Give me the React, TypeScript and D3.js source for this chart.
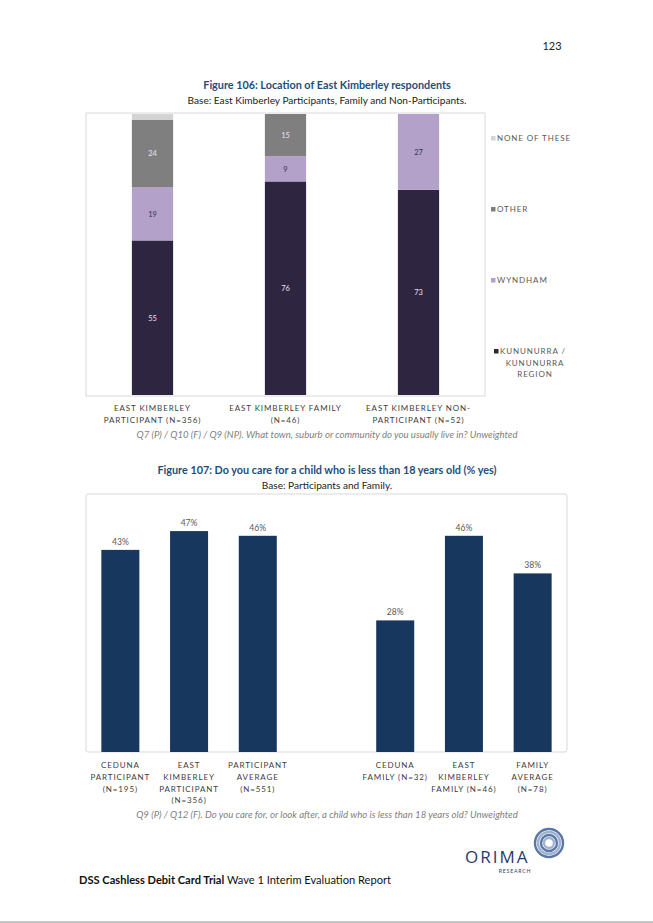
import { useEffect, useRef } from 'react';
import * as d3 from 'd3';

// Figure 106 – location of East Kimberley respondents (stacked %)
const locationGroups = ['EK_P', 'EK_F', 'EK_NP'];
const locationLabels = [
  ['EAST KIMBERLEY', 'PARTICIPANT (N=356)'],
  ['EAST KIMBERLEY FAMILY', '(N=46)'],
  ['EAST KIMBERLEY NON-', 'PARTICIPANT (N=52)'],
];
const locationKeys = ['kununurra', 'wyndham', 'other', 'none'];
const locationLegend = [['KUNUNURRA /', 'KUNUNURRA', 'REGION'], ['WYNDHAM'], ['OTHER'], ['NONE OF THESE']];
const kununurra = [55, 76, 73];
const wyndham = [19, 9, 27];
const other = [24, 15, 0];
const noneOfThese = [2, 0, 0];

// Figure 107 – care for a child under 18 (% yes); '' is the gap slot
const careGroups = ['CP', 'EKP', 'PA', '', 'CF', 'EKF', 'FA'];
const careLabels = [
  ['CEDUNA', 'PARTICIPANT', '(N=195)'],
  ['EAST', 'KIMBERLEY', 'PARTICIPANT', '(N=356)'],
  ['PARTICIPANT', 'AVERAGE', '(N=551)'],
  [],
  ['CEDUNA', 'FAMILY (N=32)'],
  ['EAST', 'KIMBERLEY', 'FAMILY (N=46)'],
  ['FAMILY', 'AVERAGE', '(N=78)'],
];
const careValues = [43, 47, 46, null, 28, 46, 38];

const W = 653;
const H = 923;
const FONT = "Lato, 'Open Sans', sans-serif";
const TITLE_BLUE = '#1f4e79';
const colors: Record<string, string> = {
  kununurra: '#2e2541',
  wyndham: '#b3a1c9',
  other: '#7f7f7f',
  none: '#d4d4d4',
};

export default function App() {
  const svgRef = useRef<SVGSVGElement>(null);

  useEffect(() => {
    if (!svgRef.current) return;
    const svg = d3.select(svgRef.current);
    svg.selectAll('*').remove();

    svg.append('rect').attr('width', W).attr('height', H).attr('fill', '#fff');

    // page number
    svg.append('text').attr('x', 552).attr('y', 50).attr('text-anchor', 'middle')
      .attr('font-family', FONT).attr('font-size', 11).attr('fill', '#222').text('123');

    const title = (y: number, t: string, sub: string) => {
      svg.append('text').attr('x', 327).attr('y', y).attr('text-anchor', 'middle')
        .attr('font-family', FONT).attr('font-weight', 'bold').attr('font-size', 10.8)
        .attr('fill', TITLE_BLUE).text(t);
      svg.append('text').attr('x', 327).attr('y', y + 15).attr('text-anchor', 'middle')
        .attr('font-family', FONT).attr('font-size', 10.1).attr('fill', '#222').text(sub);
    };
    const note = (y: number, t: string) => {
      svg.append('text').attr('x', 327).attr('y', y).attr('text-anchor', 'middle')
        .attr('font-family', FONT).attr('font-style', 'italic').attr('font-size', 9.6)
        .attr('fill', '#808080').text(t);
    };
    const multiLine = (g: d3.Selection<SVGGElement, unknown, null, undefined>, x: number, y: number, lines: string[], dy: number) => {
      const t = g.append('text').attr('x', x).attr('y', y).attr('text-anchor', 'middle')
        .attr('font-family', FONT).attr('font-size', 8).attr('letter-spacing', 0.9)
        .attr('fill', '#404040');
      lines.forEach((l, i) => t.append('tspan').attr('x', x).attr('y', y + i * dy).text(l));
    };

    // ---------- Figure 106 ----------
    title(89, 'Figure 106: Location of East Kimberley respondents',
      'Base: East Kimberley Participants, Family and Non-Participants.');

    const g1 = svg.append('g');
    const x1 = d3.scaleBand<string>().domain(locationGroups).range([86, 485])
      .paddingInner(0.69).paddingOuter(0.345);
    const y1 = d3.scaleLinear().domain([0, 100]).range([395, 114]);

    g1.append('rect').attr('x', 86).attr('y', 113).attr('width', 399).attr('height', 283)
      .attr('fill', 'none').attr('stroke', '#d9d9d9').attr('stroke-width', 1);

    const rows = locationGroups.map((grp, i) => ({
      grp,
      kununurra: kununurra[i],
      wyndham: wyndham[i],
      other: other[i],
      none: noneOfThese[i],
    }));
    const stacked = d3.stack<any>().keys(locationKeys)(rows);

    stacked.forEach(layer => {
      const lg = g1.append('g');
      layer.forEach(d => {
        const v = d[1] - d[0];
        if (v <= 0) return;
        lg.append('rect').attr('x', x1(d.data.grp)!).attr('width', x1.bandwidth())
          .attr('y', y1(d[1])).attr('height', y1(d[0]) - y1(d[1]))
          .attr('fill', colors[layer.key]);
        if (layer.key !== 'none') {
          lg.append('text').attr('x', x1(d.data.grp)! + x1.bandwidth() / 2)
            .attr('y', (y1(d[0]) + y1(d[1])) / 2 + 3).attr('text-anchor', 'middle')
            .attr('font-family', FONT).attr('font-size', 7.5)
            .attr('fill', layer.key === 'wyndham' ? '#3a3050' : '#e8e4ee').text(v);
        }
      });
    });

    locationGroups.forEach((grp, i) => {
      multiLine(g1, x1(grp)! + x1.bandwidth() / 2, 411, locationLabels[i], 12);
    });

    // legend
    const legendY = [354, 283, 212, 141];
    locationKeys.forEach((k, i) => {
      const lines = locationLegend[i];
      const y = legendY[i];
      if (lines.length === 1) {
        g1.append('rect').attr('x', 491).attr('y', y - 5).attr('width', 4.5).attr('height', 4.5)
          .attr('fill', colors[k]);
        g1.append('text').attr('x', 497).attr('y', y).attr('font-family', FONT)
          .attr('font-size', 8).attr('letter-spacing', 0.9).attr('fill', '#595959').text(lines[0]);
      } else {
        g1.append('rect').attr('x', 494).attr('y', y - 5).attr('width', 4.5).attr('height', 4.5)
          .attr('fill', colors[k]);
        const t = g1.append('text').attr('font-family', FONT)
          .attr('font-size', 8).attr('letter-spacing', 0.9).attr('fill', '#595959');
        lines.forEach((l, j) => t.append('tspan')
          .attr('x', j === 0 ? 500 : 535).attr('text-anchor', j === 0 ? 'start' : 'middle')
          .attr('y', y + j * 11.5).text(l));
      }
    });

    note(438, 'Q7 (P) / Q10 (F) / Q9 (NP). What town, suburb or community do you usually live in? Unweighted');

    // ---------- Figure 107 ----------
    title(474, 'Figure 107: Do you care for a child who is less than 18 years old (% yes)',
      'Base: Participants and Family.');

    const g2 = svg.append('g');
    g2.append('rect').attr('x', 86).attr('y', 494).attr('width', 481).attr('height', 258)
      .attr('fill', 'none').attr('stroke', '#d9d9d9').attr('stroke-width', 1).attr('rx', 2);

    const x2 = d3.scaleBand<number>().domain(d3.range(careGroups.length)).range([86, 567])
      .paddingInner(0.447).paddingOuter(0.2235);
    const y2 = d3.scaleLinear().domain([0, 50]).range([752, 517]);

    careValues.forEach((v, i) => {
      if (v === null) return;
      const x = x2(i)!;
      g2.append('rect').attr('x', x).attr('width', x2.bandwidth())
        .attr('y', y2(v)).attr('height', y2(0) - y2(v)).attr('fill', '#17375e');
      g2.append('text').attr('x', x + x2.bandwidth() / 2).attr('y', y2(v) - 5)
        .attr('text-anchor', 'middle').attr('font-family', FONT).attr('font-size', 8.6)
        .attr('fill', '#595959').text(`${v}%`);
    });

    careLabels.forEach((lines, i) => {
      if (!lines.length) return;
      multiLine(g2, x2(i)! + x2.bandwidth() / 2, 768, lines, 11.8);
    });

    note(818, 'Q9 (P) / Q12 (F). Do you care for, or look after, a child who is less than 18 years old? Unweighted');

    // ---------- footer ----------
    const ft = svg.append('text').attr('x', 79).attr('y', 884).attr('font-family', FONT)
      .attr('font-size', 11.1).attr('fill', '#111');
    ft.append('tspan').attr('font-weight', 'bold').text('DSS Cashless Debit Card Trial');
    ft.append('tspan').text(' Wave 1 Interim Evaluation Report');

    // ORIMA logo
    const logo = svg.append('g');
    [14, 11, 8, 5].forEach((r, i) => {
      logo.append('circle').attr('cx', 549).attr('cy', 843).attr('r', r)
        .attr('fill', 'none').attr('stroke', i % 2 ? '#9fb3d1' : '#5a77a6').attr('stroke-width', 2.4);
    });
    logo.append('text').attr('x', 465).attr('y', 863).attr('font-family', "'Open Sans', sans-serif")
      .attr('font-size', 17).attr('letter-spacing', 2).attr('fill', '#2b3a67').text('ORIMA');
    logo.append('text').attr('x', 515).attr('y', 873).attr('text-anchor', 'middle')
      .attr('font-family', FONT).attr('font-size', 5.2).attr('letter-spacing', 0.8)
      .attr('fill', '#2b3a67').text('RESEARCH');

    // bottom rule
    svg.append('line').attr('x1', 0).attr('x2', W).attr('y1', 922).attr('y2', 922)
      .attr('stroke', '#b3b3b3').attr('stroke-width', 1.5);
  }, []);

  return (
    <svg ref={svgRef} width={W} height={H}
      style={{ position: 'absolute', left: 0, top: 0, display: 'block' }} />
  );
}
